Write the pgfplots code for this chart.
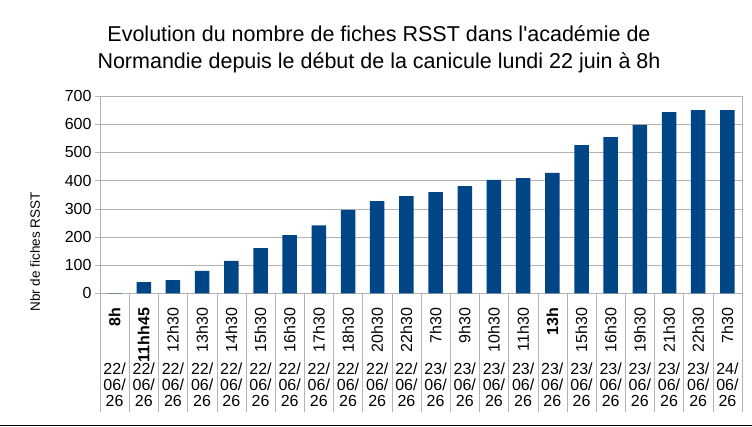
\documentclass[border=0pt]{standalone}
\usepackage{pgfplots}
\pgfplotsset{compat=1.18}
\usepackage{fontspec}
\setmainfont{Liberation Sans}
\definecolor{barblue}{HTML}{004586}
\definecolor{gridgray}{HTML}{B3B3B3}
\begin{document}
\begin{tikzpicture}
\useasboundingbox (0,0) rectangle (752pt,426pt);
\node[font=\fontsize{21.5}{27}\selectfont, align=center, inner sep=0pt] at (379pt,377pt)
  {Evolution du nombre de fiches RSST dans l{\addfontfeatures{Ligatures=TeXOff}'}académie de\\Normandie depuis le début de la canicule lundi 22 juin à 8h};
\node[rotate=90, font=\fontsize{13.5}{15}\selectfont, inner sep=0pt] at (35pt,174pt) {Nbr de fiches RSST};
\begin{axis}[
  at={(100pt,132.7pt)}, anchor=south west,
  scale only axis, width=642pt, height=197.3pt,
  xmin=-0.5, xmax=21.5, ymin=0, ymax=700,
  ytick={0,100,...,700},
  ymajorgrids, grid style={gridgray},
  axis line style={gridgray},
  ytick pos=left, tick align=outside, major tick length=5pt,
  ytick style={gridgray},
  yticklabel style={font=\fontsize{16}{19}\selectfont},
  xtick={0,...,21},
  xtick style={draw=none},
  x tick label style={rotate=90, anchor=east, inner xsep=9.5pt, font=\fontsize{16}{19}\selectfont},
  xticklabels={\bfseries 8h,\bfseries 11hh45,12h30,13h30,14h30,15h30,16h30,17h30,18h30,20h30,22h30,7h30,9h30,10h30,11h30,\bfseries 13h,15h30,16h30,19h30,21h30,22h30,7h30},
  extra x ticks={0,...,21},
  extra x tick style={major tick length=0pt, grid=none, x tick label style={rotate=-90, anchor=north, inner sep=0pt, yshift=-69pt, align=center, font=\fontsize{16}{16.3}\selectfont}},
  extra x tick labels={{22/\\06/\\26},{22/\\06/\\26},{22/\\06/\\26},{22/\\06/\\26},{22/\\06/\\26},{22/\\06/\\26},{22/\\06/\\26},{22/\\06/\\26},{22/\\06/\\26},{22/\\06/\\26},{22/\\06/\\26},{23/\\06/\\26},{23/\\06/\\26},{23/\\06/\\26},{23/\\06/\\26},{23/\\06/\\26},{23/\\06/\\26},{23/\\06/\\26},{23/\\06/\\26},{23/\\06/\\26},{23/\\06/\\26},{24/\\06/\\26}},
  clip=false,
  /pgf/number format/assume math mode=true,
]
\addplot[ybar, bar width=14.5pt, fill=barblue, draw=none] coordinates {
(0,1) (1,40) (2,47) (3,80) (4,115) (5,160) (6,206) (7,241) (8,296) (9,327) (10,345)
(11,359) (12,380) (13,402) (14,409) (15,427) (16,526) (17,554) (18,598) (19,643) (20,650) (21,650)
};
\pgfplotsinvokeforeach{-0.5,0.5,...,21.5}{
  \draw[gridgray] (axis cs:#1,0) -- ++(0pt,-119pt);
}
\end{axis}
\draw[black, line width=1.2pt] (0pt,0.6pt) -- (752pt,0.6pt);
\end{tikzpicture}
\end{document}
